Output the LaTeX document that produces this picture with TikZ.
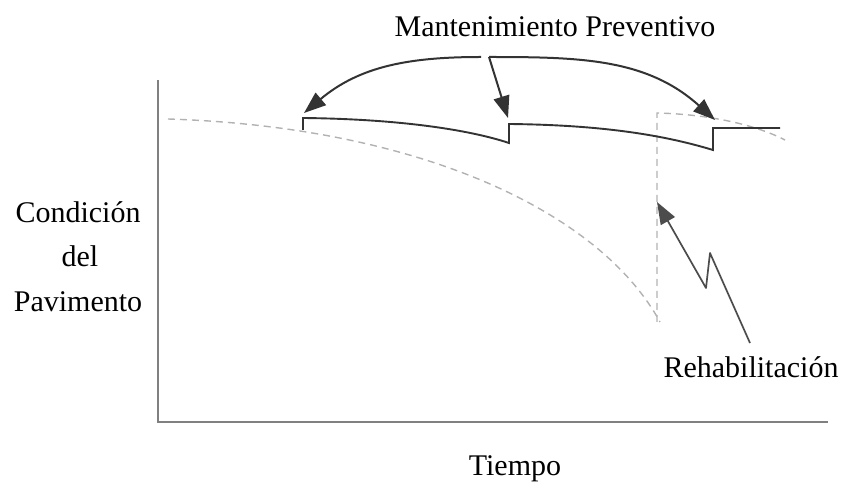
\documentclass[tikz,border=0pt]{standalone}
\usepackage{fontspec}
\setmainfont{Liberation Serif}
\usetikzlibrary{arrows.meta}

\begin{document}
\begin{tikzpicture}[x=1pt, y=1pt,
    axis/.style = {draw=black!50, line width=2.2pt},
    cond/.style = {draw=black!80, line width=1.9pt},
    trend/.style = {draw=black!30, line width=1.4pt, dash pattern=on 7pt off 5pt},
    callout/.style = {draw=black!80, line width=2pt, line join=round,
                      -{Triangle[length=22pt, width=16pt]}},
    txt/.style = {font=\fontsize{30}{36}\selectfont, anchor=base, inner sep=0pt},
    ]
\useasboundingbox (0,0) rectangle (841,482);

% axes
\coordinate (origin) at (158,60);
\coordinate (ytop) at (158,402);
\coordinate (xend) at (828,60);
\draw[axis] (ytop) -- (origin) -- (xend);

% condition without maintenance
\coordinate (d0) at (168,363);
\coordinate (d1) at (660,160);
\draw[trend] (d0) .. controls (420,355) and (600,270) .. (d1);

% after rehabilitation
\coordinate (r0) at (657,160);
\coordinate (r1) at (657,369);
\coordinate (r2) at (785,342);
\draw[trend] (r0) -- (r1) .. controls (700,368) and (750,360) .. (r2);

% condition with preventive maintenance
\coordinate (m1) at (303,352);
\coordinate (m1t) at (303,364);
\coordinate (m2) at (509,339);
\coordinate (m2t) at (509,358);
\coordinate (m3) at (713,332);
\coordinate (m3t) at (713,354);
\coordinate (mend) at (780,354);
\draw[cond] (m1) -- (m1t) .. controls (400,363) and (470,352) .. (m2)
    -- (m2t) .. controls (610,357) and (670,345) .. (m3) -- (m3t) -- (mend);

% labels
\node[txt] (mant) at (555,445) {Mantenimiento Preventivo};
\node[txt] (cond) at (78,259) {Condición};
\node[txt] (del) at (80,215) {del};
\node[txt] (pav) at (78,170) {Pavimento};
\node[txt] (rehab) at (751,104) {Rehabilitación};
\node[txt] (time) at (515,6) {Tiempo};

% arrows
\coordinate (apexL) at (481,425);
\coordinate (apexR) at (489,425);
\coordinate (tipA) at (304,369);
\coordinate (tipB) at (508,364);
\coordinate (tipC) at (715,362);
\draw[callout] (apexL) to[out=180, in=40] (tipA);
\draw[callout] (apexR) to[out=0, in=138] (tipC);
\draw[callout] (apexR) -- (tipB);

\coordinate (z0) at (750,139);
\coordinate (z1) at (710,229);
\coordinate (z2) at (706,194);
\coordinate (tipR) at (657,280);
\draw[callout, draw=black!70, line width=1.7pt] (z0) -- (z1) -- (z2) -- (tipR);
\end{tikzpicture}
\end{document}
